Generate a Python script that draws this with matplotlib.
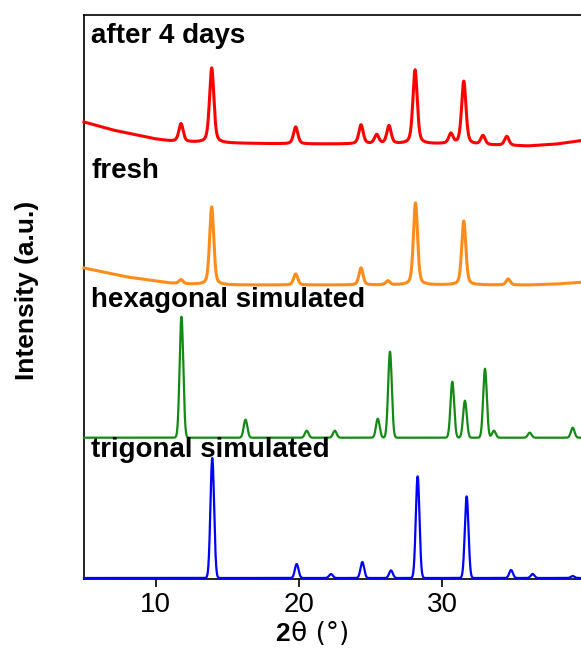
import numpy as np
import matplotlib
matplotlib.use("Agg")
import matplotlib.pyplot as plt

plt.rcParams["font.family"] = ["Liberation Sans", "DejaVu Sans"]

# peak tables: 2theta position, height above own baseline (a.u.)
aged_pos = [11.77, 13.91, 19.77, 24.33, 25.42, 26.28, 28.10, 30.60, 31.50, 32.84, 34.50]
aged_height = [18, 75, 17, 19, 9, 18, 74, 10, 63, 9, 9]
aged_bg_x = [5, 6, 7, 8, 9, 10, 11, 12, 14, 20, 30, 36, 38, 40]
aged_bg_y = [22, 18, 14, 11, 8, 5, 3, 2, 1, 0, 0, -2, 0, 4]

fresh_pos = [11.77, 13.91, 19.77, 24.33, 26.20, 28.13, 31.50, 34.60]
fresh_height = [4, 78, 11, 17, 4, 82, 64, 6]
fresh_bg_x = [5, 6, 7, 8, 9, 10, 11, 12, 14, 20, 30, 36, 38, 40]
fresh_bg_y = [17, 14, 11, 8, 6, 4, 2, 1, 0, 0, 0, 0, 1, 3]

hex_pos = [11.80, 16.27, 20.54, 22.50, 25.50, 26.35, 30.70, 31.58, 32.98, 33.60, 36.10, 39.10]
hex_height = [121, 18, 7, 7, 19, 86, 56, 37, 69, 7, 5, 10]

trig_pos = [13.95, 19.84, 22.23, 24.42, 26.42, 28.28, 31.70, 34.80, 36.30, 39.10]
trig_height = [120, 14, 4, 16, 7.6, 101.6, 81.6, 8, 4, 2]

labels = ["after 4 days", "fresh", "hexagonal simulated", "trigonal simulated"]
offsets = [435, 294, 141.3, 1.0]
colors = ["#ff0000", "#ff8c1a", "#138a13", "#0000ff"]


def profile(x, pos, height, fwhm, eta):
    y = np.zeros_like(x)
    for p, h in zip(pos, height):
        d = (x - p) / (fwhm / 2)
        gauss = np.exp(-np.log(2) * d ** 2)
        lorentz = 1 / (1 + d ** 2)
        y += h * ((1 - eta) * gauss + eta * lorentz)
    return y


x = np.linspace(5, 40, 4001)
curves = [
    profile(x, aged_pos, aged_height, 0.36, 0.45) + np.interp(x, aged_bg_x, aged_bg_y),
    profile(x, fresh_pos, fresh_height, 0.34, 0.4) + np.interp(x, fresh_bg_x, fresh_bg_y),
    profile(x, hex_pos, hex_height, 0.30, 0.0),
    profile(x, trig_pos, trig_height, 0.30, 0.0),
]

fig = plt.figure(figsize=(5.81, 6.48), dpi=100)
ax = fig.add_axes([84 / 581, 69 / 648, 501.6 / 581, 564 / 648])

for i, (off, col, y) in enumerate(zip(offsets, colors, curves)):
    lw = 2.2 if i < 2 else 1.6
    ax.plot(x, y + off, color=col, lw=lw, clip_on=False, zorder=3)

label_y = [536, 401, 272, 122]
for lab, ly in zip(labels, label_y):
    ax.text(5.5, ly, lab, fontsize=20, fontweight="bold", va="baseline", ha="left", zorder=4)

ax.set_xlim(5, 40)
ax.set_ylim(0, 564)
ax.set_xticks([10, 20, 30])
ax.set_yticks([])
ax.tick_params(axis="x", direction="out", length=6, width=1.2, labelsize=20, pad=3.5)
for s in ax.spines.values():
    s.set_linewidth(1.2)

fig.text(290 / 581, 0.011, "2", fontsize=19, fontweight="bold", ha="right", va="baseline")
fig.text(291 / 581, 0.011, "θ (°)", fontsize=19, ha="left", va="baseline", family=["DejaVu Sans"])
fig.text(27 / 581, 1 - 290 / 648, "Intensity (a.u.)", fontsize=19, fontweight="bold",
         rotation=90, ha="center", va="center")

fig.savefig("out.png", dpi=100)
